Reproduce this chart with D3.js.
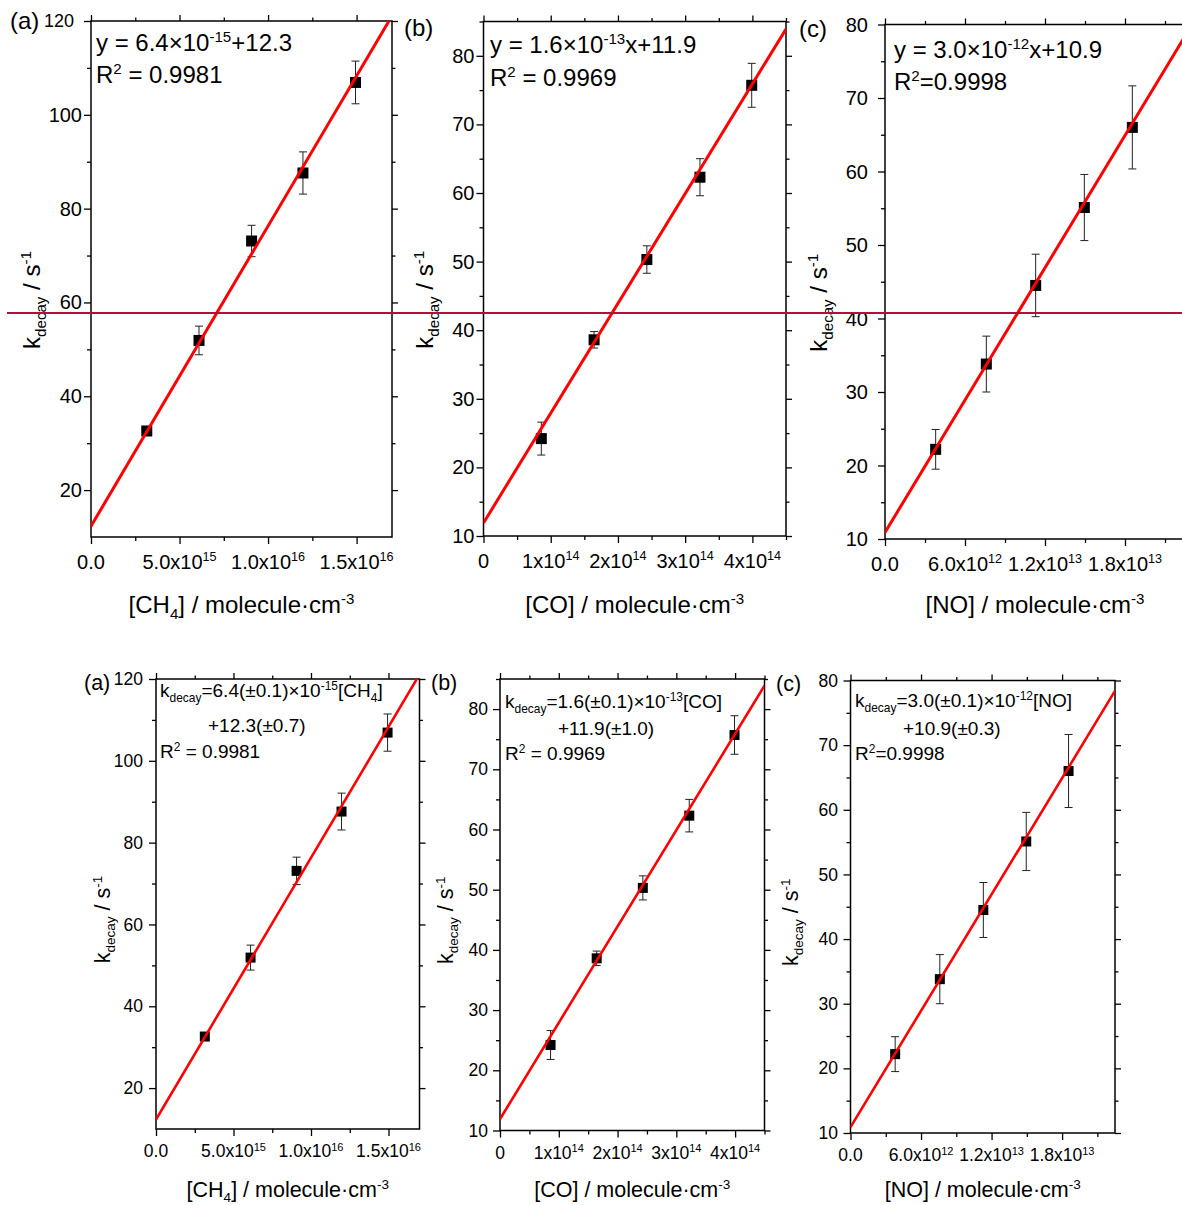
<!DOCTYPE html>
<html>
<head>
<meta charset="utf-8">
<script src="https://cdn.jsdelivr.net/npm/d3@7"></script>
<style>
  body { margin: 0; background: #fff; }
  svg { display: block; font-family: "Liberation Sans", Arial, sans-serif; }
</style>
</head>
<body>
<div id="chart"></div>
<script>
var ch4_conc = [3.15e15, 6.1e15, 9.07e15, 1.197e16, 1.494e16],
    ch4_k = [32.6, 51.9, 73.1, 87.6, 106.9],
    ch4_err = [0.5, 3.05, 3.35, 4.5, 4.55];

var co_conc = [0.86e14, 1.645e14, 2.43e14, 3.22e14, 3.99e14],
    co_k = [24.2, 38.6, 50.3, 62.3, 75.7],
    co_err = [2.4, 1.2, 2.0, 2.7, 3.2];

var no_conc = [3.8e12, 7.6e12, 1.13e13, 1.495e13, 1.855e13],
    no_k = [22.2, 33.8, 44.5, 55.1, 66.0],
    no_err = [2.7, 3.8, 4.25, 4.5, 5.65];

var fit_slope = [6.4e-15, 1.6e-13, 3.0e-12],
    fit_intercept = [12.3, 11.9, 10.9];

var x_max = [1.7e16, 4.5e14, 2.25e13],
    y_range = [[10, 120], [10, 85], [10, 80]];

var x_ticks = [[0, 5e15, 1e16, 1.5e16], [0, 1e14, 2e14, 3e14, 4e14], [0, 6e12, 1.2e13, 1.8e13]],
    x_tick_labels = [['0.0', '5.0x10^{15}', '1.0x10^{16}', '1.5x10^{16}'],
                     ['0', '1x10^{14}', '2x10^{14}', '3x10^{14}', '4x10^{14}'],
                     ['0.0', '6.0x10^{12}', '1.2x10^{13}', '1.8x10^{13}']],
    x_minor = [2.5e15, 5e13, 3e12];

var y_ticks = [[20, 40, 60, 80, 100, 120], [10, 20, 30, 40, 50, 60, 70, 80], [10, 20, 30, 40, 50, 60, 70, 80]],
    y_minor = [10, 5, 5];

var panel_names = ['(a)', '(b)', '(c)'],
    x_titles = ['[CH_{4}] / molecule·cm^{-3}', '[CO] / molecule·cm^{-3}', '[NO] / molecule·cm^{-3}'],
    y_title = 'k_{decay} / s^{-1}';

var top_notes = [['y = 6.4×10^{-15}+12.3', 'R^{2} = 0.9981'],
                 ['y = 1.6×10^{-13}x+11.9', 'R^{2} = 0.9969'],
                 ['y = 3.0×10^{-12}x+10.9', 'R^{2}=0.9998']];
var bottom_notes = [['k_{decay}=6.4(±0.1)×10^{-15}[CH_{4}]', '+12.3(±0.7)', 'R^{2} = 0.9981'],
                    ['k_{decay}=1.6(±0.1)×10^{-13}[CO]', '+11.9(±1.0)', 'R^{2} = 0.9969'],
                    ['k_{decay}=3.0(±0.1)×10^{-12}[NO]', '+10.9(±0.3)', 'R^{2}=0.9998']];

var series = [[ch4_conc, ch4_k, ch4_err], [co_conc, co_k, co_err], [no_conc, no_k, no_err]];

var svg_w = 1182, svg_h = 1205;

var svg = d3.select('#chart').append('svg')
    .attr('width', svg_w)
    .attr('height', svg_h);

var top_style = {row: 't', tick: 20, note: 24, title: 24, label: 24, xlab_dy: 31.5, xtitle_y: 613,
                 ytitle_off: 21, square: 11, fit_w: 3};
var bottom_style = {row: 'b', tick: 17.5, note: 19, title: 21.5, label: 21.5, xlab_dy: 28, xtitle_y: 1197,
                    ytitle_off: 15.5, square: 10, fit_w: 2.6};

var top_layout = [
  {l: 91, t: 21, r: 392, b: 537, lab_x: 10, lab_y: 29, gap: 9, ytitle_x: 40, note_x: [96, 96], note_y: [51, 83],
   first_small: {size: 18, gap: 17}},
  {l: 483.5, t: 21.5, r: 786, b: 536, lab_x: 404, lab_y: 36, gap: 9, ytitle_x: 433, note_x: [490, 490], note_y: [53, 86]},
  {l: 885, t: 24.5, r: 1185, b: 539, lab_x: 799, lab_y: 37, gap: 17, ytitle_x: 827, note_x: [894, 894], note_y: [58, 90]}
];
var bottom_layout = [
  {l: 156, t: 679, r: 419.5, b: 1129, lab_x: 84, lab_y: 690, gap: 13, ytitle_x: 110,
   note_x: [160, 208, 160], note_y: [697, 732, 758]},
  {l: 500, t: 679, r: 764.5, b: 1130.5, lab_x: 431, lab_y: 690, gap: 12, ytitle_x: 453,
   note_x: [505, 558, 505], note_y: [708, 735, 760]},
  {l: 850.5, t: 680.5, r: 1115, b: 1133, lab_x: 776, lab_y: 691, gap: 12.5, ytitle_x: 798,
   note_x: [855, 903, 855], note_y: [707, 735, 760]}
];

// text with ^{..} superscripts and _{..} subscripts
function rich(sel, str, size) {
  var re = /([_^])\{([^}]*)\}/g, parts = [], last = 0, m;
  while ((m = re.exec(str))) {
    if (m.index > last) parts.push({t: str.slice(last, m.index), s: 0});
    parts.push({t: m[2], s: m[1] === '^' ? 1 : -1});
    last = re.lastIndex;
  }
  if (last < str.length) parts.push({t: str.slice(last), s: 0});
  var cur = 0;
  parts.forEach(function(p) {
    var off = p.s === 1 ? -0.36 * size : (p.s === -1 ? 0.25 * size : 0);
    sel.append('tspan')
      .attr('dy', off - cur)
      .attr('font-size', p.s ? 0.63 * size : size)
      .text(p.t);
    cur = off;
  });
  return sel;
}

function draw_panel(i, box, st, notes) {
  var x = d3.scaleLinear().domain([0, x_max[i]]).range([box.l, box.r]);
  var y = d3.scaleLinear().domain(y_range[i]).range([box.b, box.t]);
  var g = svg.append('g');
  var clip_id = 'clip-' + st.row + i;

  svg.append('clipPath').attr('id', clip_id)
    .append('rect')
    .attr('x', box.l)
    .attr('y', box.t)
    .attr('width', box.r - box.l)
    .attr('height', box.b - box.t);

  function minor_vals(step, max, majors) {
    return d3.range(0, max + step * 0.01, step).filter(function(v) {
      return !majors.some(function(t) { return Math.abs(t - v) < step * 1e-6; });
    });
  }
  var xm = minor_vals(x_minor[i], x_max[i], x_ticks[i]);
  var ym = minor_vals(y_minor[i], y_range[i][1], y_ticks[i]).filter(function(v) { return v > y_range[i][0]; });

  function add_axis(axis, vals, size, tr) {
    g.append('g')
      .attr('transform', tr)
      .call(axis.tickValues(vals).tickSize(size).tickSizeOuter(0).tickFormat(''))
      .call(function(a) { a.select('.domain').remove(); })
      .selectAll('line')
      .attr('stroke', '#000')
      .attr('stroke-width', 1.3);
  }
  add_axis(d3.axisBottom(x), x_ticks[i], 7, 'translate(0,' + box.b + ')');
  add_axis(d3.axisBottom(x), xm, 4, 'translate(0,' + box.b + ')');
  add_axis(d3.axisTop(x), x_ticks[i], 6, 'translate(0,' + box.t + ')');
  add_axis(d3.axisTop(x), xm, 3.5, 'translate(0,' + box.t + ')');
  add_axis(d3.axisLeft(y), y_ticks[i], 7, 'translate(' + box.l + ',0)');
  add_axis(d3.axisLeft(y), ym, 4, 'translate(' + box.l + ',0)');
  add_axis(d3.axisRight(y), y_ticks[i], 6, 'translate(' + box.r + ',0)');
  add_axis(d3.axisRight(y), ym, 3.5, 'translate(' + box.r + ',0)');

  g.append('rect')
    .attr('x', box.l)
    .attr('y', box.t)
    .attr('width', box.r - box.l)
    .attr('height', box.b - box.t)
    .attr('fill', 'none')
    .attr('stroke', '#000')
    .attr('stroke-width', 1.5);

  x_ticks[i].forEach(function(v, j) {
    rich(g.append('text')
      .attr('x', x(v))
      .attr('y', box.b + st.xlab_dy)
      .attr('text-anchor', 'middle')
      .attr('font-size', st.tick)
      .attr('fill', '#000'), x_tick_labels[i][j], st.tick);
  });

  y_ticks[i].forEach(function(v, j) {
    var size = st.tick, gap = box.gap;
    if (box.first_small && j === y_ticks[i].length - 1) {
      size = box.first_small.size;
      gap = box.first_small.gap;
    }
    g.append('text')
      .attr('x', box.l - gap)
      .attr('y', y(v) + 0.35 * size)
      .attr('text-anchor', 'end')
      .attr('font-size', size)
      .attr('fill', '#000')
      .text(d3.format('d')(v));
  });

  var d = series[i];
  var pts = d[0].map(function(c, j) { return {c: c, k: d[1][j], e: d[2][j]}; });

  var eb = g.append('g').attr('stroke', '#222').attr('stroke-width', 1);
  pts.forEach(function(p) {
    var cx = x(p.c), y1 = y(p.k - p.e), y2 = y(p.k + p.e);
    eb.append('line').attr('x1', cx).attr('x2', cx).attr('y1', y1).attr('y2', y2);
    eb.append('line').attr('x1', cx - 4).attr('x2', cx + 4).attr('y1', y1).attr('y2', y1);
    eb.append('line').attr('x1', cx - 4).attr('x2', cx + 4).attr('y1', y2).attr('y2', y2);
  });

  g.selectAll('rect.pt')
    .data(pts)
    .enter().append('rect')
    .attr('class', 'pt')
    .attr('x', function(p) { return x(p.c) - st.square / 2; })
    .attr('y', function(p) { return y(p.k) - st.square / 2; })
    .attr('width', st.square)
    .attr('height', st.square)
    .attr('fill', '#000');

  var fit = [0, x_max[i]].map(function(c) { return [c, fit_slope[i] * c + fit_intercept[i]]; });
  g.append('path')
    .datum(fit)
    .attr('clip-path', 'url(#' + clip_id + ')')
    .attr('d', d3.line().x(function(p) { return x(p[0]); }).y(function(p) { return y(p[1]); }))
    .attr('fill', 'none')
    .attr('stroke', '#ff0000')
    .attr('stroke-width', st.fit_w);

  notes.forEach(function(n, j) {
    rich(g.append('text')
      .attr('x', box.note_x[j])
      .attr('y', box.note_y[j])
      .attr('font-size', st.note)
      .attr('fill', '#000'), n, st.note);
  });

  rich(g.append('text')
    .attr('x', (box.l + box.r) / 2)
    .attr('y', st.xtitle_y)
    .attr('text-anchor', 'middle')
    .attr('font-size', st.title)
    .attr('fill', '#000'), x_titles[i], st.title);

  rich(g.append('text')
    .attr('transform', 'translate(' + box.ytitle_x + ',' + ((box.t + box.b) / 2 + st.ytitle_off) + ') rotate(-90)')
    .attr('text-anchor', 'middle')
    .attr('font-size', st.title)
    .attr('fill', '#000'), y_title, st.title);

  g.append('text')
    .attr('x', box.lab_x)
    .attr('y', box.lab_y)
    .attr('font-size', st.label)
    .attr('fill', '#000')
    .text(panel_names[i]);
}

for (var i = 0; i < 3; i++) {
  draw_panel(i, top_layout[i], top_style, top_notes[i]);
  draw_panel(i, bottom_layout[i], bottom_style, bottom_notes[i]);
}

svg.append('line')
  .attr('x1', 7)
  .attr('x2', svg_w)
  .attr('y1', 313)
  .attr('y2', 313)
  .attr('stroke', '#b0103a')
  .attr('stroke-width', 2);
</script>
</body>
</html>
